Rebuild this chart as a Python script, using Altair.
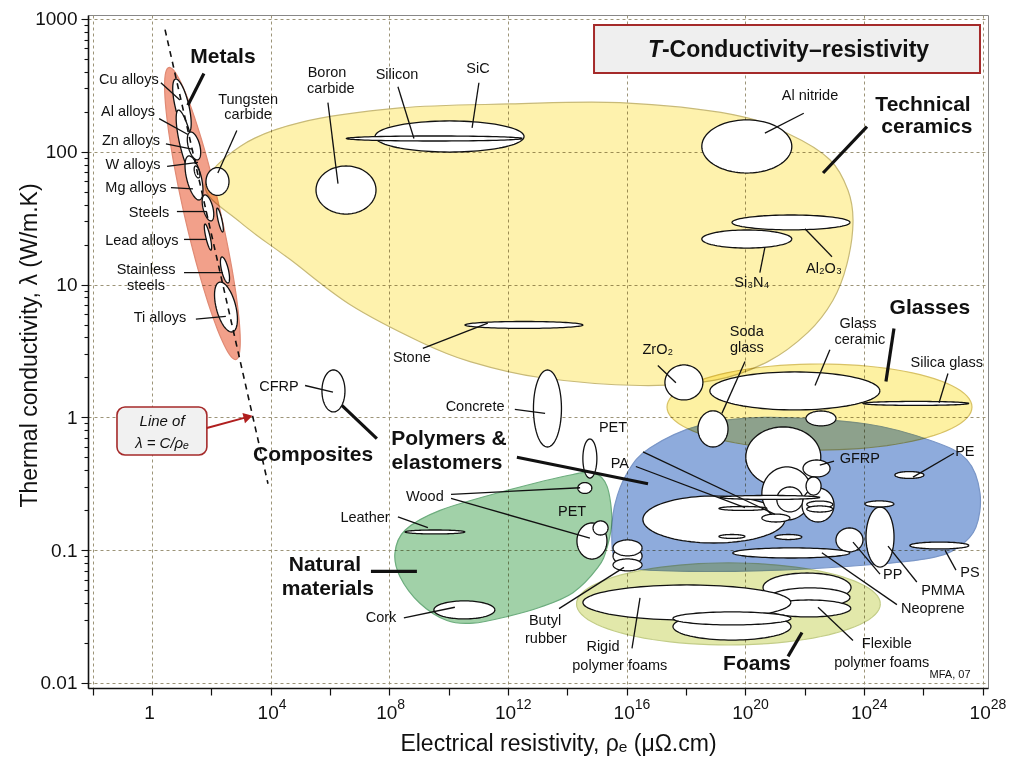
import altair as alt
import pandas as pd

FONT = "Liberation Sans"

# ---------------- axis ranges (log10 units) and ticks ----------------
X_LOG_DOMAIN = [-2.157, 28.18]
Y_LOG_DOMAIN = [-2.038, 3.03]
X_TICK_EXP = [-2, 0, 2, 4, 6, 8, 10, 12, 14, 16, 18, 20, 22, 24, 26, 28]
X_LABEL_EXP = [0, 4, 8, 12, 16, 20, 24, 28]
X_LABEL_BASE = ["1", "10", "10", "10", "10", "10", "10", "10"]
X_LABEL_SUP = ["", "4", "8", "12", "16", "20", "24", "28"]
X_SUP_ROW = -2.166          # log10 λ of the exponent row, just below the plot
X_GRID_EXP = [-2, 0, 4, 8, 12, 16, 20, 24, 28]
Y_DECADES = [-2, -1, 0, 1, 2]
Y_MINOR_MULT = [1, 2, 3, 4, 5, 6, 7, 8, 9]
Y_TOP = [1000]

# ---------------- envelopes drawn as ellipses (log10 units) ----------------
ENV_E_NAME = ["Metals", "Glasses", "Foams"]
ENV_E_CX = [1.70, 22.50, 19.43]
ENV_E_CY = [1.535, 0.078, -1.405]
ENV_E_RX = [0.62, 5.14, 5.12]
ENV_E_RY = [1.10, 0.324, 0.309]
ENV_E_SH = [1.013, 0.0, 0.0]
ENV_E_FILL = ["#f2a08a", "#fdf1a2", "#e2e8aa"]
ENV_E_STROKE = ["#e08a74", "#d8c266", "#c3cd88"]

# ---------------- envelopes drawn as closed outlines (log10 units) ----------------
CER_X = [1.79, 2.97, 4.99, 8.36, 12.07, 15.77, 19.58, 21.50, 22.85, 23.46, 23.63, 23.42,
         22.95, 22.11, 20.76, 18.98, 16.45, 13.08, 10.72, 9.03, 6.67, 4.65, 2.97]
CER_Y = [1.74, 2.04, 2.22, 2.33, 2.36, 2.37, 2.28, 2.13, 1.94, 1.71, 1.47, 1.15,
         0.88, 0.64, 0.42, 0.28, 0.24, 0.30, 0.42, 0.57, 0.85, 1.19, 1.47]
POL_X = [15.50, 15.60, 16.04, 16.78, 18.47, 20.73, 24.10, 26.32, 27.47, 27.91, 27.77, 27.17,
         26.22, 24.20, 21.17, 18.13, 16.28, 15.64]
POL_Y = [-0.92, -0.66, -0.41, -0.23, -0.06, 0.00, -0.05, -0.18, -0.32, -0.57, -0.83, -0.98,
         -1.06, -1.11, -1.15, -1.16, -1.14, -1.07]
NAT_X = [8.19, 8.53, 9.71, 11.97, 14.19, 14.93, 15.34, 15.50, 15.34, 15.03, 14.19, 13.08,
         11.97, 10.82, 9.94, 9.03, 8.36]
NAT_Y = [-1.02, -0.85, -0.70, -0.55, -0.43, -0.42, -0.52, -0.77, -0.98, -1.13, -1.32, -1.43,
         -1.50, -1.55, -1.53, -1.40, -1.20]

# ---------------- material bubbles (log10 units), in drawing order ----------------
MAT_NAME = ["Cu alloys", "Al alloys", "Zn alloys", "Mg alloys", "W alloys", "Steels", "Cast irons",
            "Lead alloys", "Stainless steels", "Ti alloys", "Tungsten carbide",
            "Boron carbide", "SiC", "Silicon", "Stone", "Al nitride", "Al2O3", "Si3N4",
            "Concrete", "CFRP",
            "ZrO2", "Glass ceramic", "Silica glass", "Borosilicate", "Soda glass",
            "Leather", "Cork", "Wood (small)", "Wood", "PET (natural)", "PET (upper)",
            "Butyl a", "Butyl b", "Butyl c",
            "Polymer a", "Polymer b", "Polymer c", "Polymer d", "GFRP", "Polymer e", "Polymer f",
            "PET", "PA", "Polymer g", "Polymer h", "Polymer i", "Polymer j", "Polymer k",
            "PE", "PMMA", "PMMA cap", "PP", "PS", "Neoprene",
            "Flexible a", "Flexible b", "Flexible c", "Rigid polymer foams", "Foam d", "Foam e"]
MAT_CX = [1.01, 1.146, 1.416, 1.416, 1.517, 1.887, 2.292, 1.887, 2.46, 2.494, 2.208,
          6.54, 10.03, 9.52, 12.54, 20.05, 21.54, 20.05, 13.33, 6.117,
          17.93, 21.67, 25.75, 22.55, 18.91,
          9.54, 10.53, 14.59, 14.83, 15.12, 14.76, 16.03, 16.03, 16.03,
          18.94, 21.28, 21.40, 22.45, 22.40, 22.30, 21.50, 20.83, 19.92, 21.03, 22.51, 22.51,
          21.45, 19.55, 25.53, 24.54, 24.52, 23.51, 26.54, 21.55,
          22.08, 22.18, 22.14, 18.03, 19.55, 19.55]
MAT_CY = [2.345, 2.066, 2.044, 1.803, 1.848, 1.577, 1.486, 1.358, 1.11, 0.831, 1.776,
          1.712, 2.115, 2.10, 0.696, 2.04, 1.468, 1.343, 0.067, 0.199,
          0.263, 0.199, 0.105, -0.008, -0.087,
          -0.863, -1.45, -0.532, -0.931, -0.833, -0.31, -1.044, -0.983, -1.111,
          -0.769, -0.298, -0.573, -0.66, -0.385, -0.517, -0.618, -0.603, -0.686, -0.758, -0.656, -0.69,
          -0.901, -0.897, -0.434, -0.901, -0.652, -0.923, -0.965, -1.021,
          -1.281, -1.356, -1.439, -1.394, -1.575, -1.514]
MAT_RX = [0.236, 0.219, 0.20, 0.253, 0.084, 0.169, 0.067, 0.074, 0.118, 0.337, 0.388,
          1.011, 2.511, 2.966, 1.989, 1.517, 1.989, 1.517, 0.472, 0.388,
          0.64, 2.865, 1.786, 0.506, 0.506,
          1.011, 1.028, 0.236, 0.506, 0.253, 0.236, 0.489, 0.489, 0.489,
          2.393, 1.264, 0.843, 0.539, 0.455, 0.253, 0.438, 1.685, 0.809, 0.472, 0.438, 0.438,
          0.455, 0.438, 0.489, 0.472, 0.489, 0.455, 0.994, 1.972,
          1.483, 1.348, 1.416, 3.505, 1.989, 1.989]
MAT_RY = [0.203, 0.248, 0.105, 0.166, 0.045, 0.098, 0.09, 0.098, 0.098, 0.188, 0.105,
          0.181, 0.117, 0.019, 0.026, 0.20, 0.056, 0.068, 0.29, 0.158,
          0.132, 0.143, 0.015, 0.056, 0.136,
          0.015, 0.068, 0.041, 0.136, 0.053, 0.147, 0.068, 0.06, 0.045,
          0.177, 0.226, 0.20, 0.128, 0.064, 0.068, 0.094, 0.015, 0.015, 0.03, 0.026, 0.023,
          0.019, 0.015, 0.026, 0.226, 0.023, 0.09, 0.026, 0.038,
          0.109, 0.072, 0.064, 0.132, 0.102, 0.049]
MAT_SH = [1.0] * 10 + [0.0] * 50

# ---------------- λ = C/ρ guide line ----------------
GUIDE_X = [0.44, 3.91]
GUIDE_Y = [2.92, -0.50]

# ---------------- labels ----------------
REG_TEXT = ["Cu alloys", "Al alloys", "Zn alloys", "W alloys", "Mg alloys", "Steels", "Lead alloys",
            "Stainless", "steels", "Ti alloys", "Tungsten", "carbide", "Boron", "carbide", "Silicon",
            "SiC", "Stone", "Al nitride", "Al₂O₃", "Si₃N₄", "Glass", "ceramic", "Silica glass", "Soda",
            "glass", "ZrO₂", "CFRP", "Concrete", "PET", "PA", "Wood", "PET", "Leather", "Cork", "Butyl",
            "rubber", "Rigid", "polymer foams", "Flexible", "polymer foams", "GFRP", "PE", "PP", "PMMA",
            "PS", "Neoprene"]
REG_X = [-0.78, -0.81, -0.71, -0.64, -0.54, -0.10, -0.34, -0.20, -0.20, 0.27, 3.24, 3.24, 5.90, 6.03,
         8.26, 10.99, 8.76, 22.18, 22.65, 20.22, 23.80, 23.86, 26.79, 20.05, 20.05, 17.05, 4.28, 10.89,
         15.54, 15.77, 9.20, 14.16, 7.18, 7.72, 13.25, 13.28, 15.20, 15.77, 24.77, 24.60, 23.86, 27.40,
         24.97, 26.66, 27.57, 26.32]
REG_Y = [2.54, 2.30, 2.08, 1.90, 1.73, 1.54, 1.33, 1.11, 0.99, 0.75, 2.39, 2.28, 2.59, 2.47, 2.58, 2.62,
         0.45, 2.42, 1.12, 1.01, 0.70, 0.58, 0.41, 0.64, 0.52, 0.51, 0.23, 0.08, -0.08, -0.35, -0.60,
         -0.71, -0.76, -1.51, -1.53, -1.67, -1.73, -1.87, -1.71, -1.85, -0.31, -0.26, -1.19, -1.31,
         -1.17, -1.44]

BOLD_TEXT = ["Metals", "Technical", "ceramics", "Glasses", "Composites", "Polymers &", "elastomers",
             "Natural", "materials", "Foams"]
BOLD_X = [2.39, 25.99, 26.12, 26.22, 5.43, 10.01, 9.94, 5.83, 5.93, 20.39]
BOLD_Y = [2.71, 2.35, 2.19, 0.82, -0.28, -0.16, -0.34, -1.11, -1.29, -1.86]

# leader lines: x1, y1, x2, y2 (log10 units)
THIN_X1 = [0.30, 0.24, 0.47, 0.51, 0.64, 0.84, 1.08, 1.08, 1.48, 2.86, 5.93, 8.29, 11.02, 9.13, 21.97,
           22.92, 20.49, 22.85, 26.83, 19.99, 17.05, 5.16, 12.23, 16.55, 16.31, 10.08, 10.08, 8.29,
           8.49, 13.72, 16.18, 23.63, 22.99, 27.03, 24.54, 25.78, 27.10, 25.11]
THIN_Y1 = [2.52, 2.25, 2.06, 1.89, 1.73, 1.55, 1.34, 1.09, 0.74, 2.16, 2.37, 2.49, 2.52, 0.52, 2.29,
           1.21, 1.09, 0.51, 0.33, 0.42, 0.39, 0.24, 0.06, -0.26, -0.37, -0.58, -0.61, -0.75, -1.51,
           -1.44, -1.74, -1.68, -0.33, -0.27, -1.18, -1.24, -1.15, -1.41]
THIN_X2 = [0.94, 1.21, 1.35, 1.55, 1.38, 1.85, 1.85, 2.39, 2.49, 2.22, 6.27, 8.83, 10.79, 11.32, 20.66,
           22.01, 20.66, 22.35, 26.53, 19.21, 17.66, 6.10, 13.25, 21.00, 19.99, 14.43, 14.76, 9.30,
           10.21, 15.91, 16.45, 22.45, 22.51, 25.65, 23.63, 24.81, 26.73, 22.58]
THIN_Y2 = [2.39, 2.13, 2.02, 1.92, 1.72, 1.55, 1.34, 1.09, 0.76, 1.84, 1.76, 2.10, 2.18, 0.71, 2.14,
           1.42, 1.28, 0.24, 0.11, 0.03, 0.26, 0.19, 0.03, -0.73, -0.68, -0.53, -0.91, -0.83, -1.43,
           -1.13, -1.36, -1.43, -0.36, -0.45, -0.94, -0.97, -1.00, -1.02]
THICK_X1 = [1.75, 24.10, 25.01, 7.58, 12.30, 7.38, 21.44]
THICK_Y1 = [2.59, 2.19, 0.67, -0.16, -0.30, -1.16, -1.80]
THICK_X2 = [1.21, 22.62, 24.74, 6.40, 16.72, 8.93, 21.91]
THICK_Y2 = [2.35, 1.84, 0.27, 0.09, -0.50, -1.16, -1.62]

# title box / note box (log10 units)
TITLE_BOX = [14.90, 27.91, 2.955, 2.593]
TITLE_ANCHOR = [17.19, 2.77]
NOTE_BOX = [-1.18, 1.85, 0.078, -0.283]
NOTE_TEXT = ["Line of", "λ  =  C/ρₑ"]
NOTE_X = [0.34, 0.34]
NOTE_Y = [-0.03, -0.19]
ARROW = [1.85, -0.08, 3.17, 0.0]
ARROW_HEAD = [3.24, 0.003]

# ======================================================================
XS = alt.Scale(type="log", domain=[10 ** X_LOG_DOMAIN[0], 10 ** X_LOG_DOMAIN[1]], nice=False)
YS = alt.Scale(type="log", domain=[10 ** Y_LOG_DOMAIN[0], 10 ** Y_LOG_DOMAIN[1]], nice=False)

N = "round(log(datum.value)/LN10)"
x_label_expr = "''"
for e, t in reversed(list(zip(X_LABEL_EXP, X_LABEL_BASE))):
    x_label_expr = f"{N} == {e} ? '{t}' : ({x_label_expr})"
x_grid_test = " || ".join(f"{N} == {e}" for e in X_GRID_EXP)
y_decade_test = f"abs(log(datum.value)/LN10 - {N}) < 0.001"

x_axis = alt.Axis(
    values=[10.0 ** e for e in X_TICK_EXP],
    labelExpr=x_label_expr, labelFont=FONT, labelFontSize=19, labelColor="#111",
    labelPadding=8, labelOffset=-3, labelFlush=False, labelOverlap=False, labelBound=False,
    tickSize=7, tickColor="#111", tickWidth=1.2,
    domainColor="#111", domainWidth=1.6,
    grid=True, gridColor="#9c9478", gridDash=[3, 3], gridWidth=1,
    gridOpacity={"condition": {"test": x_grid_test, "value": 1}, "value": 0},
    title="Electrical resistivity, ρₑ (μΩ.cm)", titleFont=FONT, titleFontSize=23,
    titleFontWeight="normal", titleColor="#111", titleX=470, titleY=55,
    titleBaseline="middle", titleAlign="center",
)
y_axis = alt.Axis(
    values=[m * 10.0 ** e for e in Y_DECADES for m in Y_MINOR_MULT] + Y_TOP,
    format="~g", labelExpr=f"{y_decade_test} ? datum.label : ''",
    labelFont=FONT, labelFontSize=19, labelColor="#111", labelPadding=4,
    labelFlush=False, labelOverlap=False, labelBound=False,
    tickSize={"condition": {"test": y_decade_test, "value": 7}, "value": 4},
    tickColor="#111", tickWidth=1.1,
    domainColor="#111", domainWidth=1.6,
    grid=True, gridColor="#9c9478", gridDash=[3, 3], gridWidth=1,
    gridOpacity={"condition": {"test": y_decade_test, "value": 1}, "value": 0},
    title="Thermal conductivity, λ (W/m.K)", titleFont=FONT, titleFontSize=23,
    titleFontWeight="normal", titleColor="#111", titleX=-59, titleY=330,
    titleBaseline="middle", titleAlign="center",
)


def xy(xf="X", yf="Y"):
    return dict(
        x=alt.X(f"{xf}:Q", scale=XS, axis=x_axis),
        y=alt.Y(f"{yf}:Q", scale=YS, axis=y_axis),
    )


def ellipse_base(df):
    return (
        alt.Chart(df)
        .transform_calculate(k="sequence(0, 97)")
        .transform_flatten(["k"])
        .transform_calculate(a="datum.k * 2 * PI / 96")
        .transform_calculate(
            X="pow(10, datum.cx + datum.rx*cos(datum.a) - datum.sh*datum.ry*sin(datum.a))",
            Y="pow(10, datum.cy + datum.ry*sin(datum.a))",
        )
    )


layers = []

# envelopes: outlines
for px, py, fill, stroke in [
    (CER_X, CER_Y, "#fef2ad", "#c8ba78"),
    (NAT_X, NAT_Y, "#a1d1a8", "#6dad7e"),
    (POL_X, POL_Y, "#8eabdc", "#7b97c8"),
]:
    df = pd.DataFrame({"lx": px, "ly": py, "k": list(range(len(px)))})
    layers.append(
        alt.Chart(df)
        .transform_calculate(X="pow(10, datum.lx)", Y="pow(10, datum.ly)")
        .mark_line(interpolate="cardinal-closed", fill=fill, stroke=stroke,
                   strokeWidth=1.2, blend="multiply")
        .encode(order="k:Q", **xy())
    )

# envelopes: ellipses
for i in range(len(ENV_E_NAME)):
    df = pd.DataFrame({"id": [ENV_E_NAME[i]], "cx": [ENV_E_CX[i]], "cy": [ENV_E_CY[i]],
                       "rx": [ENV_E_RX[i]], "ry": [ENV_E_RY[i]], "sh": [ENV_E_SH[i]]})
    layers.append(
        ellipse_base(df)
        .mark_line(fill=ENV_E_FILL[i], stroke=ENV_E_STROKE[i], strokeWidth=1.2, blend="multiply")
        .encode(order="k:Q", detail="id:N", **xy())
    )

# material bubbles
mat = pd.DataFrame({"id": [f"m{i:03d}" for i in range(len(MAT_NAME))], "name": MAT_NAME,
                    "cx": MAT_CX, "cy": MAT_CY, "rx": MAT_RX, "ry": MAT_RY, "sh": MAT_SH})
layers.append(
    ellipse_base(mat)
    .mark_line(fill="white", stroke="#111", strokeWidth=1.3)
    .encode(order="k:Q", detail="id:N", **xy())
)

# guide line λ = C/ρ
guide = pd.DataFrame({"lx": GUIDE_X, "ly": GUIDE_Y})
layers.append(
    alt.Chart(guide)
    .transform_calculate(X="pow(10, datum.lx)", Y="pow(10, datum.ly)")
    .mark_line(stroke="#111", strokeWidth=1.6, strokeDash=[6, 5])
    .encode(**xy())
)

# leader lines
for x1, y1, x2, y2, w in [(THIN_X1, THIN_Y1, THIN_X2, THIN_Y2, 1.3),
                          (THICK_X1, THICK_Y1, THICK_X2, THICK_Y2, 3.2)]:
    df = pd.DataFrame({"x1": x1, "y1": y1, "x2": x2, "y2": y2})
    layers.append(
        alt.Chart(df)
        .transform_calculate(X="pow(10, datum.x1)", Y="pow(10, datum.y1)",
                             X2="pow(10, datum.x2)", Y2="pow(10, datum.y2)")
        .mark_rule(stroke="#111", strokeWidth=w)
        .encode(x2="X2:Q", y2="Y2:Q", **xy())
    )

# boxes
for box, radius, fill, sw in [(TITLE_BOX, 0, "#efefef", 2.0), (NOTE_BOX, 8, "#f1f1f1", 1.6)]:
    df = pd.DataFrame({"x1": [box[0]], "x2": [box[1]], "y1": [box[2]], "y2": [box[3]]})
    layers.append(
        alt.Chart(df)
        .transform_calculate(X="pow(10, datum.x1)", Y="pow(10, datum.y1)",
                             X2="pow(10, datum.x2)", Y2="pow(10, datum.y2)")
        .mark_rect(fill=fill, stroke="#a52a2a", strokeWidth=sw, cornerRadius=radius)
        .encode(x2="X2:Q", y2="Y2:Q", **xy())
    )

# arrow
arr = pd.DataFrame({"x1": [ARROW[0]], "y1": [ARROW[1]], "x2": [ARROW[2]], "y2": [ARROW[3]]})
layers.append(
    alt.Chart(arr)
    .transform_calculate(X="pow(10, datum.x1)", Y="pow(10, datum.y1)",
                         X2="pow(10, datum.x2)", Y2="pow(10, datum.y2)")
    .mark_rule(stroke="#b01e1e", strokeWidth=2)
    .encode(x2="X2:Q", y2="Y2:Q", **xy())
)
head = pd.DataFrame({"lx": [ARROW_HEAD[0]], "ly": [ARROW_HEAD[1]]})
layers.append(
    alt.Chart(head)
    .transform_calculate(X="pow(10, datum.lx)", Y="pow(10, datum.ly)")
    .mark_point(shape="triangle-right", size=110, filled=True, fill="#b01e1e",
                opacity=1, angle=346, strokeWidth=0)
    .encode(**xy())
)


def text_layer(texts, xs, ys, size, weight="normal", style="normal", align="center",
               color="#111", dx=0):
    df = pd.DataFrame({"t": texts, "lx": xs, "ly": ys})
    return (
        alt.Chart(df)
        .transform_calculate(X="pow(10, datum.lx)", Y="pow(10, datum.ly)")
        .mark_text(font=FONT, fontSize=size, fontWeight=weight, fontStyle=style,
                   align=align, baseline="middle", color=color, dx=dx)
        .encode(text="t:N", **xy())
    )


layers.append(text_layer(REG_TEXT, REG_X, REG_Y, 14.5))
layers.append(text_layer(BOLD_TEXT, BOLD_X, BOLD_Y, 21, weight="bold"))
layers.append(text_layer(["T"], [TITLE_ANCHOR[0]], [TITLE_ANCHOR[1]], 23, weight="bold",
                         style="italic", align="right"))
layers.append(text_layer(["-Conductivity–resistivity"], [TITLE_ANCHOR[0]], [TITLE_ANCHOR[1]], 23,
                         weight="bold", align="left"))
layers.append(text_layer(NOTE_TEXT, NOTE_X, NOTE_Y, 15, style="italic"))
layers.append(text_layer(["MFA, 07"], [26.90], [-1.94], 11))
# tick-label exponents (10^n)
layers.append(text_layer(X_LABEL_SUP, X_LABEL_EXP, [X_SUP_ROW] * len(X_LABEL_EXP), 14,
                         align="left", dx=8))

chart = (
    alt.layer(*layers)
    .properties(width=900, height=673, autosize="none",
                padding={"left": 80, "top": 7, "right": 20, "bottom": 70})
    .configure_view(stroke="#888", strokeWidth=1)
)

chart.save("out.html", embed_options={"renderer": "svg", "actions": False})
